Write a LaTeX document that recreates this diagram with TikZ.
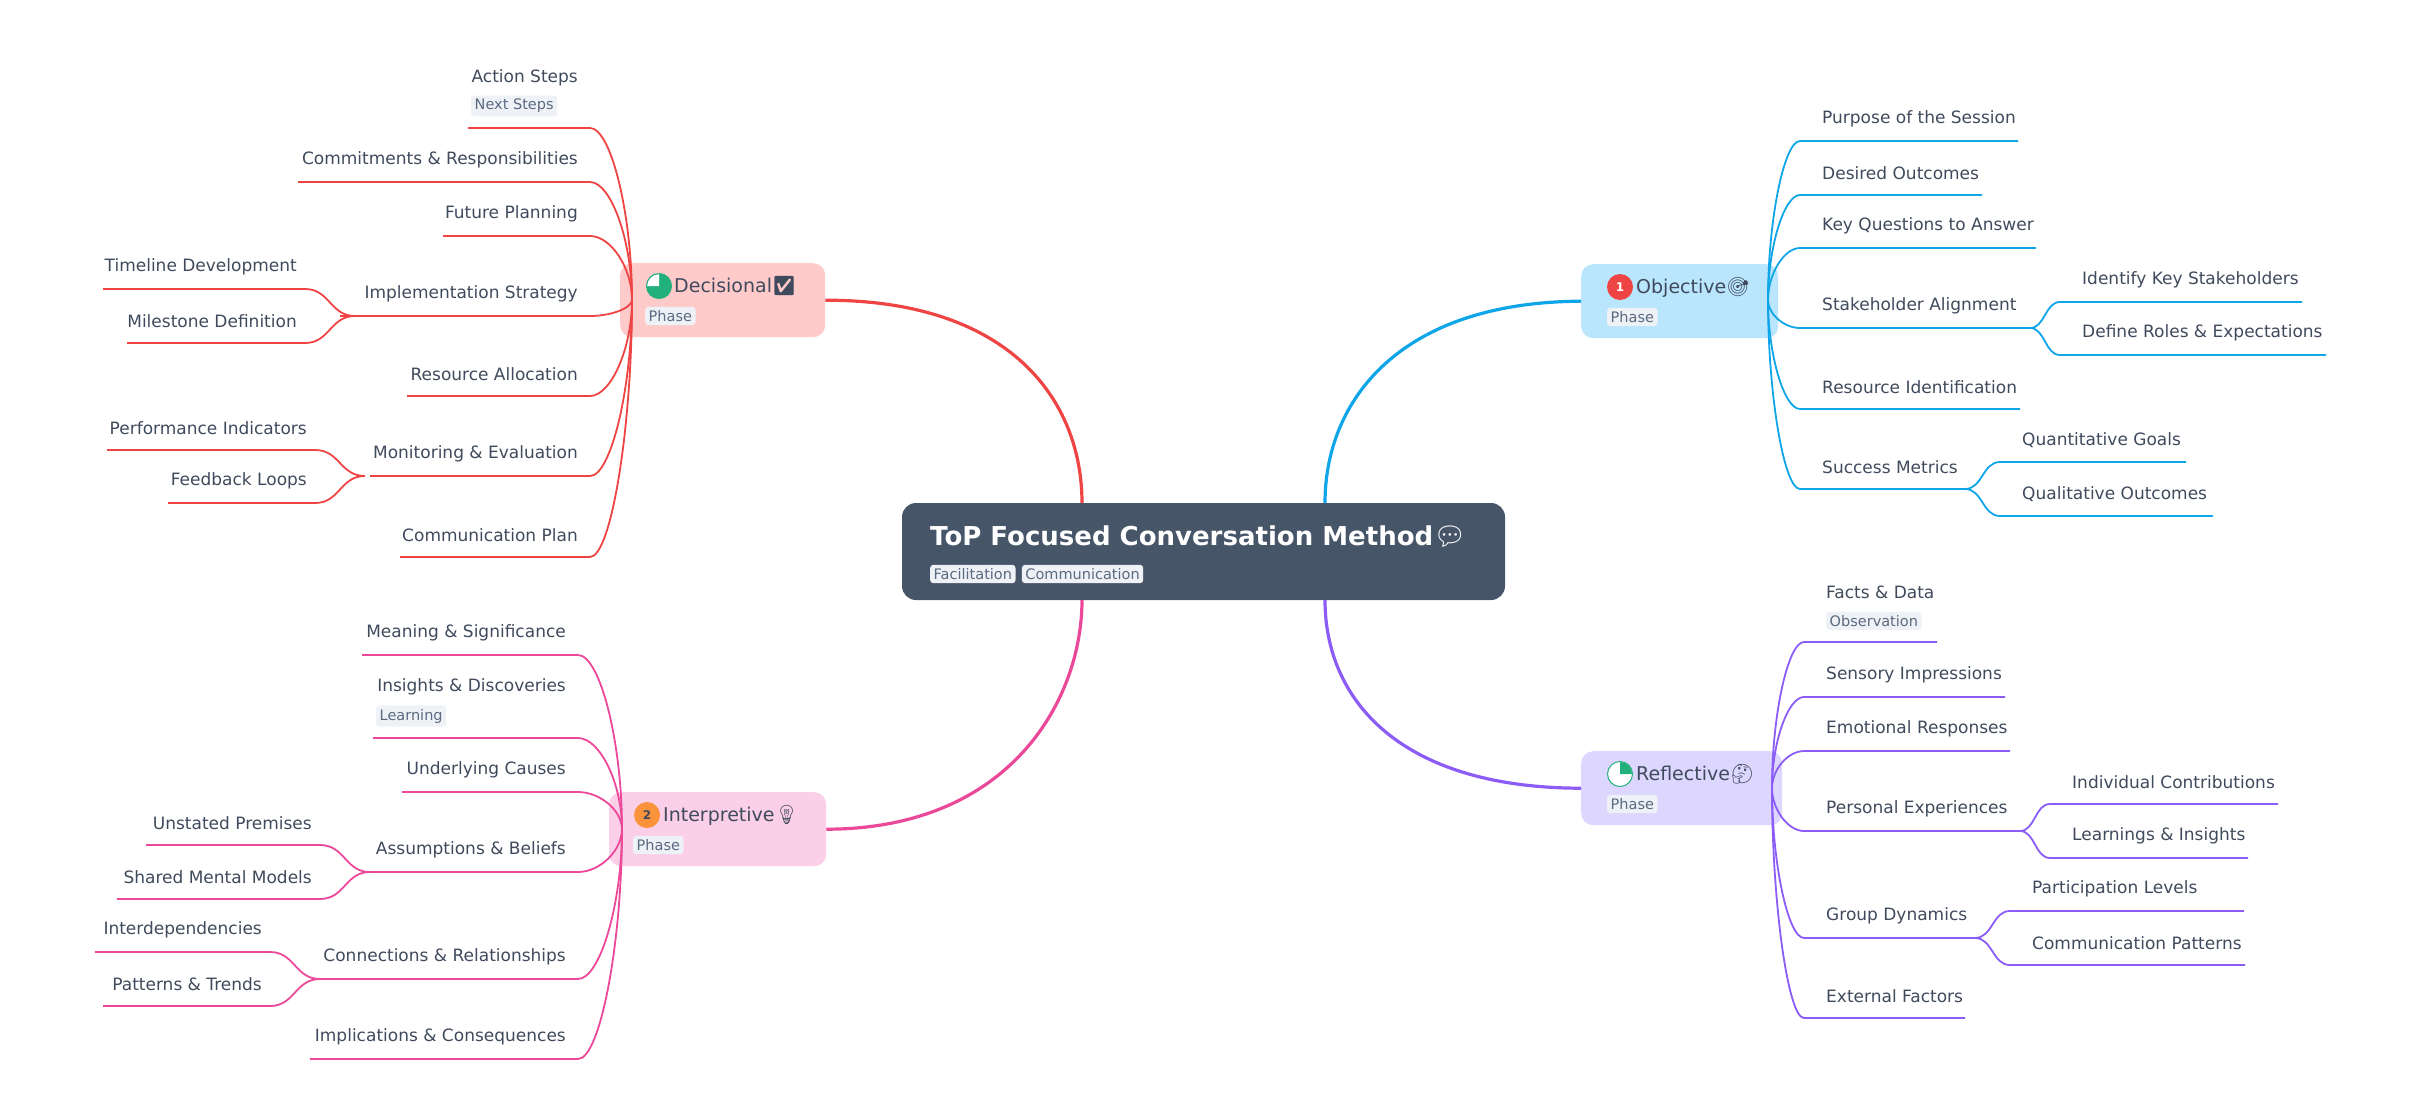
\documentclass[tikz,border=0pt]{standalone}
\usepackage{fontspec}
\setmainfont{DejaVu Sans}
\newfontfamily\emo{Noto Emoji}
\definecolor{txt}{HTML}{3F4A5C}
\definecolor{tagbg}{HTML}{EEF2F7}
\definecolor{tagtx}{HTML}{5A6A80}
\definecolor{cr}{HTML}{EF4444}
\definecolor{cb}{HTML}{0EA5E9}
\definecolor{cp}{HTML}{8B5CF6}
\definecolor{ck}{HTML}{EC4899}
\definecolor{gr}{HTML}{22B07D}
\definecolor{rootc}{HTML}{475569}
\definecolor{orb}{HTML}{FB923C}
\tikzset{
 item/.style={text=txt,inner sep=0pt,font=\fontsize{17}{20}\selectfont},
 tagbox/.style={fill=tagbg,rounded corners=3pt,text=tagtx,inner sep=3.5pt,font=\fontsize{14.5}{16}\selectfont},
 phasebox/.style={rounded corners=12pt,minimum height=74pt,anchor=north west},
 plabel/.style={item,anchor=west,font=\fontsize{19}{22}\selectfont},
 kid/.style={line width=1.8pt},
 main/.style={line width=3.2pt},
}
\def\toff{22}
\newcommand\LK[8]{\node[item,anchor=east] (#1) at ({#4-12},{#5-\toff}) {#2};
 \coordinate (#1-l) at (#3,#5); \coordinate (#1-r) at (#4,#5);
 \draw[kid,#8] (#1-l) -- (#1-r) .. controls ({#4+0.5*(#6-#4)},#5) and (#6,{#7+0.5*(#5-#7)}) .. (#6,#7);}
\newcommand\RK[8]{\node[item,anchor=west] (#1) at ({#3+22},{#5-\toff}) {#2};
 \coordinate (#1-l) at (#3,#5); \coordinate (#1-r) at (#4,#5);
 \draw[kid,#8] (#1-r) -- (#1-l) .. controls ({#3+0.5*(#6-#3)},#5) and (#6,{#7+0.5*(#5-#7)}) .. (#6,#7);}
\newcommand\LG[8]{\node[item,anchor=east] (#1) at ({#4-8},{#5-22}) {#2};
 \coordinate (#1-l) at (#3,#5); \coordinate (#1-r) at (#4,#5);
 \draw[kid,#8] (#1-l) -- (#1-r) .. controls ({0.5*(#4+#6)},#5) and ({0.5*(#4+#6)},#7) .. (#6,#7);}
\newcommand\RG[8]{\node[item,anchor=west] (#1) at ({#3+22},{#5-22}) {#2};
 \coordinate (#1-l) at (#3,#5); \coordinate (#1-r) at (#4,#5);
 \draw[kid,#8] (#1-r) -- (#1-l) .. controls ({0.5*(#3+#6)},#5) and ({0.5*(#3+#6)},#7) .. (#6,#7);}
\begin{document}
\begin{tikzpicture}[x=1pt,y=-1pt]
\useasboundingbox (0,0) rectangle (2421,1104);
% central
\fill[rootc, rounded corners=14pt] (902,503) rectangle (1505,600);
\node[inner sep=0,anchor=west,text=white,font=\fontsize{26}{30}\selectfont\bfseries] (root) at (930,537) {ToP Focused Conversation Method{\emo 💬}};
\node[tagbox,anchor=west] (t1) at (930,574) {Facilitation};
\node[tagbox,anchor=west] (t2) at (t1.east) [xshift=6pt] {Communication};
\coordinate (rtl) at (1082,503); \coordinate (rtr) at (1325,503);
\coordinate (rbl) at (1082,600); \coordinate (rbr) at (1325,600);
% phase nodes
\node[phasebox,fill={rgb,255:red,254;green,202;blue,202},minimum width=205pt] (dec) at (620,263) {};
\node[phasebox,fill={rgb,255:red,186;green,230;blue,253},minimum width=197pt] (obj) at (1581,264) {};
\node[phasebox,fill={rgb,255:red,251;green,207;blue,232},minimum width=217pt] (int) at (609,792) {};
\node[phasebox,fill={rgb,255:red,221;green,214;blue,254},minimum width=201pt] (ref) at (1581,751) {};
% decisional label
\fill[gr] (659,286) circle (12.5);
\fill[white] (659,286) -- (647,286) arc (180:270:12) -- cycle;
\draw[gr,line width=1pt] (659,286) circle (12.5);
\node[plabel] (decl) at (674,286) {Decisional{\emo ✅}};
\node[tagbox,anchor=west] at (645,316) {Phase};
% objective label
\fill[cr] (1620,287) circle (13);
\node[text=white,font=\fontsize{12}{14}\selectfont\bfseries] at (1620,287) {1};
\node[plabel] (objl) at (1636,287) {Objective{\emo 🎯}};
\node[tagbox,anchor=west] at (1607,317) {Phase};
% interpretive label
\fill[orb] (647,815) circle (13);
\node[text=txt,font=\fontsize{12}{14}\selectfont\bfseries] at (647,815) {2};
\node[plabel] (intl) at (663,815) {Interpretive{\emo 💡}};
\node[tagbox,anchor=west] at (633,845) {Phase};
% reflective label
\fill[white] (1620,774) circle (12.5);
\fill[gr] (1620,774) -- (1620,762) arc (270:360:12) -- cycle;
\draw[gr,line width=1pt] (1620,774) circle (12.5);
\node[plabel] (refl) at (1636,774) {Reflective{\emo 🤔}};
\node[tagbox,anchor=west] at (1607,804) {Phase};
% main connectors
\draw[main,cr] (dec.east) .. controls (1010,300) and (1082,400) .. (rtl);
\draw[main,cb] (obj.west) .. controls (1400,302) and (1325,400) .. (rtr);
\draw[main,ck] (int.east) .. controls (1010,829) and (1082,700) .. (rbl);
\draw[main,cp] (ref.west) .. controls (1400,788) and (1325,700) .. (rbr);
% decisional children
\def\toff{50}
\LK{a1}{Action Steps}{468}{590}{128}{632}{300}{cr}
\def\toff{22}
\node[tagbox,anchor=west] at (471,106) {Next Steps};
\LK{a2}{Commitments \& Responsibilities}{298}{590}{182}{632}{300}{cr}
\LK{a3}{Future Planning}{443}{590}{236}{632}{300}{cr}
\LK{a4}{Implementation Strategy}{340}{590}{316}{632}{300}{cr}
\LG{a41}{Timeline Development}{103}{305}{289}{355}{316}{cr}
\LG{a42}{Milestone Definition}{127}{305}{343}{355}{316}{cr}
\LK{a5}{Resource Allocation}{407}{590}{396}{632}{300}{cr}
\LK{a6}{Monitoring \& Evaluation}{370}{590}{476}{632}{300}{cr}
\LG{a61}{Performance Indicators}{107}{315}{450}{365}{476}{cr}
\LG{a62}{Feedback Loops}{168}{315}{503}{365}{476}{cr}
\LK{a7}{Communication Plan}{400}{590}{557}{632}{300}{cr}
% objective children
\RK{b1}{Purpose of the Session}{1800}{2018}{141}{1768}{300}{cb}
\RK{b2}{Desired Outcomes}{1800}{1982}{195}{1768}{300}{cb}
\RK{b3}{Key Questions to Answer}{1800}{2036}{248}{1768}{300}{cb}
\RK{b4}{Stakeholder Alignment}{1800}{2030}{328}{1768}{300}{cb}
\RG{b41}{Identify Key Stakeholders}{2060}{2302}{302}{2030}{328}{cb}
\RG{b42}{Define Roles \& Expectations}{2060}{2326}{355}{2030}{328}{cb}
\RK{b5}{Resource Identification}{1800}{2020}{409}{1768}{300}{cb}
\RK{b6}{Success Metrics}{1800}{1965}{489}{1768}{300}{cb}
\RG{b61}{Quantitative Goals}{2000}{2186}{462}{1965}{489}{cb}
\RG{b62}{Qualitative Outcomes}{2000}{2213}{516}{1965}{489}{cb}
% reflective children
\def\toff{50}
\RK{c1}{Facts \& Data}{1804}{1937}{642}{1772}{788}{cp}
\def\toff{22}
\node[tagbox,anchor=west] at (1826,621) {Observation};
\RK{c2}{Sensory Impressions}{1804}{2005}{697}{1772}{788}{cp}
\RK{c3}{Emotional Responses}{1804}{2010}{751}{1772}{788}{cp}
\RK{c4}{Personal Experiences}{1804}{2020}{831}{1772}{788}{cp}
\RG{c41}{Individual Contributions}{2050}{2278}{804}{2020}{831}{cp}
\RG{c42}{Learnings \& Insights}{2050}{2248}{858}{2020}{831}{cp}
\RK{c5}{Group Dynamics}{1804}{1975}{938}{1772}{788}{cp}
\RG{c51}{Participation Levels}{2010}{2244}{911}{1975}{938}{cp}
\RG{c52}{Communication Patterns}{2010}{2245}{965}{1975}{938}{cp}
\RK{c6}{External Factors}{1804}{1965}{1018}{1772}{788}{cp}
% interpretive children
\LK{d1}{Meaning \& Significance}{362}{578}{655}{622}{829}{ck}
\def\toff{51}
\LK{d2}{Insights \& Discoveries}{373}{578}{738}{622}{829}{ck}
\def\toff{22}
\node[tagbox,anchor=west] at (376,716) {Learning};
\LK{d3}{Underlying Causes}{402}{578}{792}{622}{829}{ck}
\LK{d4}{Assumptions \& Beliefs}{370}{578}{872}{622}{829}{ck}
\LG{d41}{Unstated Premises}{146}{320}{845}{370}{872}{ck}
\LG{d42}{Shared Mental Models}{117}{320}{899}{370}{872}{ck}
\LK{d5}{Connections \& Relationships}{315}{578}{979}{622}{829}{ck}
\LG{d51}{Interdependencies}{95}{270}{952}{320}{979}{ck}
\LG{d52}{Patterns \& Trends}{103}{270}{1006}{320}{979}{ck}
\LK{d6}{Implications \& Consequences}{310}{578}{1059}{622}{829}{ck}
\end{tikzpicture}
\end{document}
